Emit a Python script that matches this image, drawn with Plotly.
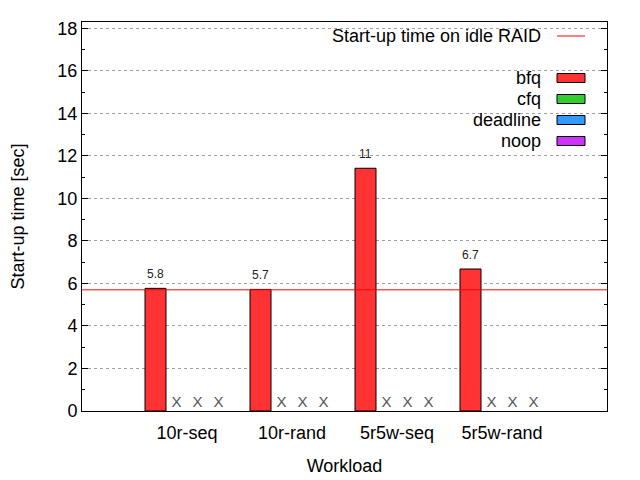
import plotly.graph_objects as go

# data
workloads = ["10r-seq", "10r-rand", "5r5w-seq", "5r5w-rand"]
schedulers = ["bfq", "cfq", "deadline", "noop"]
colors = ["#ff3333", "#33cc33", "#3399ff", "#cc33ff"]
bfq = [5.77, 5.72, 11.42, 6.68]
cfq = [None, None, None, None]
deadline = [None, None, None, None]
noop = [None, None, None, None]
idle_raid = 5.7
y_ticks = list(range(0, 19, 2))

series = [bfq, cfq, deadline, noop]
FONT = "Liberation Sans, Arial, sans-serif"
BAR_W = 0.2

fig = go.Figure()
annotations = []
group_pos = list(range(1, len(workloads) + 1))
for i, (name, vals, col) in enumerate(zip(schedulers, series, colors)):
    off = (i - (len(schedulers) - 1) / 2) * BAR_W
    xs = [g + off for g in group_pos]
    fig.add_trace(go.Bar(
        x=xs, y=vals, width=BAR_W, name=name,
        marker=dict(color=col, line=dict(color="black", width=1)),
    ))
    for x, v in zip(xs, vals):
        if v is not None:
            # value label a little above the bar
            annotations.append(dict(x=x, y=v, text=f"{v:.2g}", showarrow=False,
                                    yanchor="bottom", yshift=5,
                                    font=dict(size=12, color="#222", family=FONT)))
    # missing values are drawn as an "X" on the axis
    miss_x = [x for x, v in zip(xs, vals) if v is None]
    if miss_x:
        fig.add_trace(go.Scatter(
            x=miss_x, y=[0] * len(miss_x), mode="text", text=["X"] * len(miss_x),
            textposition="top center", textfont=dict(size=15, color="#555", family=FONT),
            hoverinfo="skip",
        ))

fig.add_hline(y=idle_raid, line=dict(color="red", width=1))

# plot area in window pixels (the page body adds an 8px offset)
L, R, T, B = 82, 607, 22, 411
PAGE_OFF = 8
W, H = 640 - PAGE_OFF, 480 - PAGE_OFF
def px(x):
    return (x - L) / (R - L)
def py(y):
    return (B - y) / (B - T)

shapes = [dict(type="rect", xref="paper", yref="paper", x0=px(258), x1=1, y0=py(150), y1=1,
               fillcolor="white", line=dict(width=0), layer="between")]
entries = [("Start-up time on idle RAID", None, 36)] + \
    [(s, c, 78 + 21 * k) for k, (s, c) in enumerate(zip(schedulers, colors))]
for label, col, yc in entries:
    annotations.append(dict(xref="paper", yref="paper", x=px(543), y=py(yc), text=label,
                            xanchor="right", yanchor="middle", showarrow=False,
                            font=dict(size=18, color="black", family=FONT)))
    if col is None:
        shapes.append(dict(type="line", xref="paper", yref="paper", x0=px(557), x1=px(585),
                           y0=py(yc), y1=py(yc), line=dict(color="red", width=1)))
    else:
        shapes.append(dict(type="rect", xref="paper", yref="paper", x0=px(557), x1=px(585),
                           y0=py(yc + 4.5), y1=py(yc - 4.5), fillcolor=col,
                           line=dict(color="black", width=1)))

fig.update_layout(
    width=W, height=H,
    margin=dict(l=L - PAGE_OFF, r=640 - R, t=T - PAGE_OFF, b=480 - B),
    plot_bgcolor="white", paper_bgcolor="white",
    showlegend=False, barmode="overlay",
    font=dict(family=FONT, size=18, color="black"),
    shapes=shapes, annotations=annotations,
    xaxis=dict(range=[0, 5], tickvals=group_pos, ticktext=workloads, ticks="",
               showgrid=False, zeroline=False, showline=True, linecolor="black",
               mirror=True, ticklabelstandoff=5, automargin=False,
               title=dict(text="Workload", standoff=17, font=dict(size=18))),
    yaxis=dict(range=[0, 18.3], tickvals=y_ticks, ticks="inside", ticklen=6,
               tickcolor="black", showline=True, linecolor="black", mirror="allticks",
               showgrid=True, gridcolor="#a0a0a0", griddash="dot", gridwidth=1,
               zeroline=False, automargin=False,
               minor=dict(dtick=1, ticks="inside", ticklen=3, tickcolor="black", showgrid=False),
               title=dict(text="Start-up time [sec]", standoff=33, font=dict(size=18))),
)

fig.write_html("out.html")
